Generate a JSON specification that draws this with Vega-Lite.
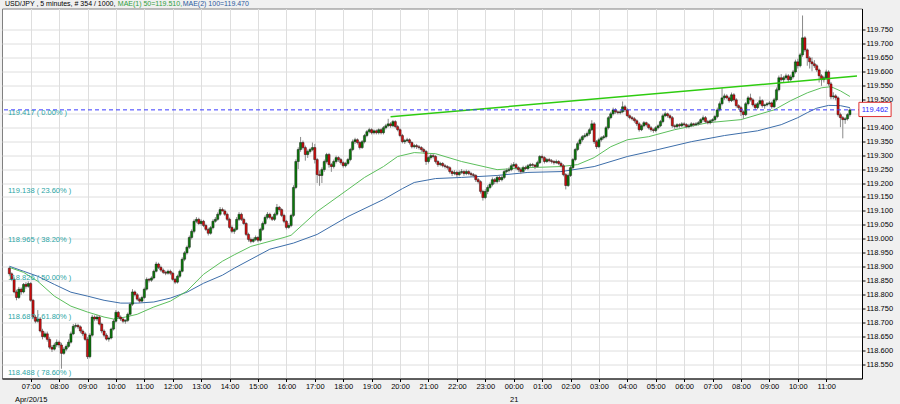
{
"$schema": "https://vega.github.io/schema/vega-lite/v6.json",
"width": 860, "height": 370,
"autosize": {"type": "none"},
"padding": {"left": 2, "top": 8.5, "right": 38, "bottom": 25.5},
"background": "#f0f0f0",
"config": {
  "view": {"fill": "#ffffff", "stroke": "#808080", "strokeWidth": 1},
  "axis": {"labelFont": "Liberation Sans", "labelFontSize": 7.5, "labelColor": "#000000", "grid": true, "gridColor": "#dedede", "gridOpacity": 1, "gridWidth": 1, "domainColor": "#000000", "tickColor": "#000000", "tickSize": 3, "title": null, "labelOverlap": false, "labelBound": false}
},
"datasets": {
"ma100": [
{"t":"2015-04-20T06:15","v":118.902},{"t":"2015-04-20T06:45","v":118.884},{"t":"2015-04-20T07:15","v":118.866},{"t":"2015-04-20T07:50","v":118.837},{"t":"2015-04-20T08:25","v":118.809},{"t":"2015-04-20T09:00","v":118.795},{"t":"2015-04-20T09:35","v":118.780},{"t":"2015-04-20T10:10","v":118.770},{"t":"2015-04-20T10:45","v":118.770},{"t":"2015-04-20T11:20","v":118.774},{"t":"2015-04-20T11:55","v":118.788},{"t":"2015-04-20T12:30","v":118.809},{"t":"2015-04-20T13:05","v":118.841},{"t":"2015-04-20T13:45","v":118.870},{"t":"2015-04-20T14:10","v":118.895},{"t":"2015-04-20T15:25","v":118.963},{"t":"2015-04-20T16:15","v":118.985},{"t":"2015-04-20T17:05","v":119.016},{"t":"2015-04-20T18:10","v":119.080},{"t":"2015-04-20T19:25","v":119.141},{"t":"2015-04-20T20:05","v":119.180},{"t":"2015-04-20T20:30","v":119.202},{"t":"2015-04-20T21:15","v":119.216},{"t":"2015-04-20T22:10","v":119.220},{"t":"2015-04-20T23:25","v":119.227},{"t":"2015-04-21T00:30","v":119.238},{"t":"2015-04-21T01:40","v":119.241},{"t":"2015-04-21T02:50","v":119.259},{"t":"2015-04-21T04:00","v":119.295},{"t":"2015-04-21T04:45","v":119.312},{"t":"2015-04-21T06:15","v":119.348},{"t":"2015-04-21T07:25","v":119.370},{"t":"2015-04-21T08:35","v":119.387},{"t":"2015-04-21T09:25","v":119.409},{"t":"2015-04-21T10:00","v":119.434},{"t":"2015-04-21T10:20","v":119.452},{"t":"2015-04-21T10:40","v":119.468},{"t":"2015-04-21T11:05","v":119.478},{"t":"2015-04-21T11:30","v":119.477},{"t":"2015-04-21T11:50","v":119.470}
],
"ma50": [
{"t":"2015-04-20T06:15","v":118.898},{"t":"2015-04-20T06:45","v":118.880},{"t":"2015-04-20T07:15","v":118.848},{"t":"2015-04-20T07:50","v":118.795},{"t":"2015-04-20T08:25","v":118.759},{"t":"2015-04-20T09:00","v":118.738},{"t":"2015-04-20T09:35","v":118.720},{"t":"2015-04-20T09:55","v":118.713},{"t":"2015-04-20T10:20","v":118.720},{"t":"2015-04-20T10:45","v":118.730},{"t":"2015-04-20T11:20","v":118.756},{"t":"2015-04-20T11:55","v":118.777},{"t":"2015-04-20T12:30","v":118.813},{"t":"2015-04-20T13:05","v":118.873},{"t":"2015-04-20T13:45","v":118.920},{"t":"2015-04-20T14:10","v":118.943},{"t":"2015-04-20T14:45","v":118.973},{"t":"2015-04-20T15:55","v":119.005},{"t":"2015-04-20T16:10","v":119.013},{"t":"2015-04-20T17:05","v":119.098},{"t":"2015-04-20T18:10","v":119.177},{"t":"2015-04-20T18:45","v":119.220},{"t":"2015-04-20T19:25","v":119.259},{"t":"2015-04-20T19:55","v":119.295},{"t":"2015-04-20T20:30","v":119.309},{"t":"2015-04-20T21:15","v":119.305},{"t":"2015-04-20T22:10","v":119.277},{"t":"2015-04-20T23:25","v":119.248},{"t":"2015-04-21T00:30","v":119.255},{"t":"2015-04-21T01:40","v":119.259},{"t":"2015-04-21T02:15","v":119.266},{"t":"2015-04-21T02:50","v":119.291},{"t":"2015-04-21T03:25","v":119.330},{"t":"2015-04-21T04:00","v":119.355},{"t":"2015-04-21T04:45","v":119.366},{"t":"2015-04-21T05:40","v":119.391},{"t":"2015-04-21T06:50","v":119.416},{"t":"2015-04-21T08:00","v":119.427},{"t":"2015-04-21T09:10","v":119.462},{"t":"2015-04-21T09:45","v":119.495},{"t":"2015-04-21T10:20","v":119.523},{"t":"2015-04-21T10:50","v":119.541},{"t":"2015-04-21T11:10","v":119.545},{"t":"2015-04-21T11:30","v":119.530},{"t":"2015-04-21T11:50","v":119.510}
],
"trend": [{"t":"2015-04-20T19:40","v":119.437},{"t":"2015-04-21T12:05","v":119.583}],
"fib": [{"p":119.417,"lab":"119.417 ( 0.00% )"},{"p":119.138,"lab":"119.138 ( 23.60% )"},{"p":118.965,"lab":"118.965 ( 38.20% )"},{"p":118.826,"lab":"118.826 ( 50.00% )"},{"p":118.687,"lab":"118.687 ( 61.80% )"},{"p":118.488,"lab":"118.488 ( 78.60% )"}],
"candles": [
{"t":"2015-04-20T06:15","o":118.895,"h":118.900,"l":118.870,"c":118.875},
{"t":"2015-04-20T06:20","o":118.875,"h":118.880,"l":118.850,"c":118.855},
{"t":"2015-04-20T06:25","o":118.855,"h":118.862,"l":118.805,"c":118.810},
{"t":"2015-04-20T06:30","o":118.810,"h":118.818,"l":118.780,"c":118.790},
{"t":"2015-04-20T06:35","o":118.790,"h":118.828,"l":118.785,"c":118.820},
{"t":"2015-04-20T06:40","o":118.820,"h":118.826,"l":118.800,"c":118.810},
{"t":"2015-04-20T06:45","o":118.810,"h":118.842,"l":118.805,"c":118.837},
{"t":"2015-04-20T06:50","o":118.837,"h":118.845,"l":118.822,"c":118.830},
{"t":"2015-04-20T06:55","o":118.830,"h":118.848,"l":118.825,"c":118.840},
{"t":"2015-04-20T07:00","o":118.840,"h":118.845,"l":118.775,"c":118.780},
{"t":"2015-04-20T07:05","o":118.780,"h":118.785,"l":118.712,"c":118.720},
{"t":"2015-04-20T07:10","o":118.720,"h":118.728,"l":118.698,"c":118.705},
{"t":"2015-04-20T07:15","o":118.705,"h":118.745,"l":118.700,"c":118.713},
{"t":"2015-04-20T07:20","o":118.713,"h":118.720,"l":118.665,"c":118.670},
{"t":"2015-04-20T07:25","o":118.670,"h":118.678,"l":118.640,"c":118.650},
{"t":"2015-04-20T07:30","o":118.650,"h":118.668,"l":118.645,"c":118.660},
{"t":"2015-04-20T07:35","o":118.660,"h":118.668,"l":118.632,"c":118.640},
{"t":"2015-04-20T07:40","o":118.640,"h":118.648,"l":118.605,"c":118.612},
{"t":"2015-04-20T07:45","o":118.612,"h":118.620,"l":118.595,"c":118.605},
{"t":"2015-04-20T07:50","o":118.605,"h":118.628,"l":118.600,"c":118.620},
{"t":"2015-04-20T07:55","o":118.620,"h":118.640,"l":118.612,"c":118.630},
{"t":"2015-04-20T08:00","o":118.630,"h":118.636,"l":118.610,"c":118.620},
{"t":"2015-04-20T08:05","o":118.620,"h":118.628,"l":118.535,"c":118.590},
{"t":"2015-04-20T08:10","o":118.590,"h":118.612,"l":118.585,"c":118.605},
{"t":"2015-04-20T08:15","o":118.605,"h":118.622,"l":118.598,"c":118.615},
{"t":"2015-04-20T08:20","o":118.615,"h":118.640,"l":118.610,"c":118.630},
{"t":"2015-04-20T08:25","o":118.630,"h":118.668,"l":118.625,"c":118.660},
{"t":"2015-04-20T08:30","o":118.660,"h":118.695,"l":118.655,"c":118.687},
{"t":"2015-04-20T08:35","o":118.687,"h":118.698,"l":118.680,"c":118.690},
{"t":"2015-04-20T08:40","o":118.690,"h":118.696,"l":118.678,"c":118.685},
{"t":"2015-04-20T08:45","o":118.685,"h":118.690,"l":118.662,"c":118.670},
{"t":"2015-04-20T08:50","o":118.670,"h":118.676,"l":118.652,"c":118.660},
{"t":"2015-04-20T08:55","o":118.660,"h":118.666,"l":118.635,"c":118.640},
{"t":"2015-04-20T09:00","o":118.640,"h":118.648,"l":118.570,"c":118.578},
{"t":"2015-04-20T09:05","o":118.578,"h":118.662,"l":118.572,"c":118.655},
{"t":"2015-04-20T09:10","o":118.655,"h":118.728,"l":118.650,"c":118.720},
{"t":"2015-04-20T09:15","o":118.720,"h":118.726,"l":118.705,"c":118.713},
{"t":"2015-04-20T09:20","o":118.713,"h":118.728,"l":118.706,"c":118.720},
{"t":"2015-04-20T09:25","o":118.720,"h":118.725,"l":118.690,"c":118.695},
{"t":"2015-04-20T09:30","o":118.695,"h":118.700,"l":118.662,"c":118.670},
{"t":"2015-04-20T09:35","o":118.670,"h":118.676,"l":118.648,"c":118.655},
{"t":"2015-04-20T09:40","o":118.655,"h":118.662,"l":118.636,"c":118.641},
{"t":"2015-04-20T09:45","o":118.641,"h":118.650,"l":118.632,"c":118.645},
{"t":"2015-04-20T09:50","o":118.645,"h":118.682,"l":118.640,"c":118.677},
{"t":"2015-04-20T09:55","o":118.677,"h":118.712,"l":118.672,"c":118.705},
{"t":"2015-04-20T10:00","o":118.705,"h":118.745,"l":118.700,"c":118.737},
{"t":"2015-04-20T10:05","o":118.737,"h":118.742,"l":118.714,"c":118.720},
{"t":"2015-04-20T10:10","o":118.720,"h":118.726,"l":118.706,"c":118.713},
{"t":"2015-04-20T10:15","o":118.713,"h":118.718,"l":118.698,"c":118.705},
{"t":"2015-04-20T10:20","o":118.705,"h":118.712,"l":118.696,"c":118.708},
{"t":"2015-04-20T10:25","o":118.708,"h":118.736,"l":118.702,"c":118.730},
{"t":"2015-04-20T10:30","o":118.730,"h":118.772,"l":118.725,"c":118.766},
{"t":"2015-04-20T10:35","o":118.766,"h":118.820,"l":118.760,"c":118.810},
{"t":"2015-04-20T10:40","o":118.810,"h":118.815,"l":118.794,"c":118.800},
{"t":"2015-04-20T10:45","o":118.800,"h":118.806,"l":118.778,"c":118.784},
{"t":"2015-04-20T10:50","o":118.784,"h":118.790,"l":118.770,"c":118.777},
{"t":"2015-04-20T10:55","o":118.777,"h":118.796,"l":118.772,"c":118.790},
{"t":"2015-04-20T11:00","o":118.790,"h":118.826,"l":118.785,"c":118.820},
{"t":"2015-04-20T11:05","o":118.820,"h":118.862,"l":118.815,"c":118.855},
{"t":"2015-04-20T11:10","o":118.855,"h":118.860,"l":118.844,"c":118.852},
{"t":"2015-04-20T11:15","o":118.852,"h":118.866,"l":118.846,"c":118.860},
{"t":"2015-04-20T11:20","o":118.860,"h":118.890,"l":118.855,"c":118.884},
{"t":"2015-04-20T11:25","o":118.884,"h":118.918,"l":118.880,"c":118.910},
{"t":"2015-04-20T11:30","o":118.910,"h":118.915,"l":118.892,"c":118.898},
{"t":"2015-04-20T11:35","o":118.898,"h":118.904,"l":118.882,"c":118.888},
{"t":"2015-04-20T11:40","o":118.888,"h":118.894,"l":118.874,"c":118.880},
{"t":"2015-04-20T11:45","o":118.880,"h":118.886,"l":118.870,"c":118.877},
{"t":"2015-04-20T11:50","o":118.877,"h":118.890,"l":118.872,"c":118.884},
{"t":"2015-04-20T11:55","o":118.884,"h":118.890,"l":118.870,"c":118.877},
{"t":"2015-04-20T12:00","o":118.877,"h":118.882,"l":118.850,"c":118.855},
{"t":"2015-04-20T12:05","o":118.855,"h":118.860,"l":118.838,"c":118.845},
{"t":"2015-04-20T12:10","o":118.845,"h":118.872,"l":118.840,"c":118.866},
{"t":"2015-04-20T12:15","o":118.866,"h":118.890,"l":118.860,"c":118.884},
{"t":"2015-04-20T12:20","o":118.884,"h":118.934,"l":118.880,"c":118.927},
{"t":"2015-04-20T12:25","o":118.927,"h":118.956,"l":118.920,"c":118.950},
{"t":"2015-04-20T12:30","o":118.950,"h":118.976,"l":118.944,"c":118.970},
{"t":"2015-04-20T12:35","o":118.970,"h":119.012,"l":118.964,"c":119.005},
{"t":"2015-04-20T12:40","o":119.005,"h":119.034,"l":118.998,"c":119.027},
{"t":"2015-04-20T12:45","o":119.027,"h":119.070,"l":119.020,"c":119.063},
{"t":"2015-04-20T12:50","o":119.063,"h":119.078,"l":119.056,"c":119.070},
{"t":"2015-04-20T12:55","o":119.070,"h":119.076,"l":119.050,"c":119.055},
{"t":"2015-04-20T13:00","o":119.055,"h":119.070,"l":119.048,"c":119.063},
{"t":"2015-04-20T13:05","o":119.063,"h":119.068,"l":119.042,"c":119.048},
{"t":"2015-04-20T13:10","o":119.048,"h":119.054,"l":119.028,"c":119.034},
{"t":"2015-04-20T13:15","o":119.034,"h":119.040,"l":119.012,"c":119.020},
{"t":"2015-04-20T13:20","o":119.020,"h":119.046,"l":119.015,"c":119.040},
{"t":"2015-04-20T13:25","o":119.040,"h":119.070,"l":119.034,"c":119.063},
{"t":"2015-04-20T13:30","o":119.063,"h":119.078,"l":119.058,"c":119.070},
{"t":"2015-04-20T13:35","o":119.070,"h":119.095,"l":119.065,"c":119.088},
{"t":"2015-04-20T13:40","o":119.088,"h":119.114,"l":119.082,"c":119.105},
{"t":"2015-04-20T13:45","o":119.105,"h":119.112,"l":119.098,"c":119.100},
{"t":"2015-04-20T13:50","o":119.100,"h":119.106,"l":119.082,"c":119.088},
{"t":"2015-04-20T13:55","o":119.088,"h":119.094,"l":119.064,"c":119.070},
{"t":"2015-04-20T14:00","o":119.070,"h":119.076,"l":119.036,"c":119.041},
{"t":"2015-04-20T14:05","o":119.041,"h":119.048,"l":119.020,"c":119.027},
{"t":"2015-04-20T14:10","o":119.027,"h":119.040,"l":119.018,"c":119.034},
{"t":"2015-04-20T14:15","o":119.034,"h":119.078,"l":119.030,"c":119.070},
{"t":"2015-04-20T14:20","o":119.070,"h":119.096,"l":119.064,"c":119.088},
{"t":"2015-04-20T14:25","o":119.088,"h":119.094,"l":119.064,"c":119.070},
{"t":"2015-04-20T14:30","o":119.070,"h":119.076,"l":119.050,"c":119.055},
{"t":"2015-04-20T14:35","o":119.055,"h":119.060,"l":119.010,"c":119.016},
{"t":"2015-04-20T14:40","o":119.016,"h":119.022,"l":118.990,"c":118.998},
{"t":"2015-04-20T14:45","o":118.998,"h":119.005,"l":118.984,"c":118.991},
{"t":"2015-04-20T14:50","o":118.991,"h":119.005,"l":118.986,"c":118.998},
{"t":"2015-04-20T14:55","o":118.998,"h":119.012,"l":118.992,"c":119.005},
{"t":"2015-04-20T15:00","o":119.005,"h":119.010,"l":118.988,"c":118.995},
{"t":"2015-04-20T15:05","o":118.995,"h":119.040,"l":118.990,"c":119.034},
{"t":"2015-04-20T15:10","o":119.034,"h":119.062,"l":119.028,"c":119.055},
{"t":"2015-04-20T15:15","o":119.055,"h":119.084,"l":119.050,"c":119.077},
{"t":"2015-04-20T15:20","o":119.077,"h":119.096,"l":119.070,"c":119.088},
{"t":"2015-04-20T15:25","o":119.088,"h":119.094,"l":119.070,"c":119.077},
{"t":"2015-04-20T15:30","o":119.077,"h":119.082,"l":119.064,"c":119.070},
{"t":"2015-04-20T15:35","o":119.070,"h":119.094,"l":119.064,"c":119.088},
{"t":"2015-04-20T15:40","o":119.088,"h":119.125,"l":119.082,"c":119.113},
{"t":"2015-04-20T15:45","o":119.113,"h":119.118,"l":119.098,"c":119.105},
{"t":"2015-04-20T15:50","o":119.105,"h":119.110,"l":119.078,"c":119.084},
{"t":"2015-04-20T15:55","o":119.084,"h":119.090,"l":119.056,"c":119.063},
{"t":"2015-04-20T16:00","o":119.063,"h":119.068,"l":119.034,"c":119.041},
{"t":"2015-04-20T16:05","o":119.041,"h":119.056,"l":119.036,"c":119.048},
{"t":"2015-04-20T16:10","o":119.048,"h":119.090,"l":119.042,"c":119.084},
{"t":"2015-04-20T16:15","o":119.084,"h":119.192,"l":119.078,"c":119.184},
{"t":"2015-04-20T16:20","o":119.184,"h":119.285,"l":119.178,"c":119.277},
{"t":"2015-04-20T16:25","o":119.277,"h":119.328,"l":119.250,"c":119.320},
{"t":"2015-04-20T16:30","o":119.320,"h":119.365,"l":119.312,"c":119.345},
{"t":"2015-04-20T16:35","o":119.345,"h":119.352,"l":119.320,"c":119.327},
{"t":"2015-04-20T16:40","o":119.327,"h":119.334,"l":119.280,"c":119.302},
{"t":"2015-04-20T16:45","o":119.302,"h":119.320,"l":119.290,"c":119.313},
{"t":"2015-04-20T16:50","o":119.313,"h":119.326,"l":119.306,"c":119.320},
{"t":"2015-04-20T16:55","o":119.320,"h":119.345,"l":119.314,"c":119.327},
{"t":"2015-04-20T17:00","o":119.327,"h":119.340,"l":119.270,"c":119.284},
{"t":"2015-04-20T17:05","o":119.284,"h":119.290,"l":119.200,"c":119.230},
{"t":"2015-04-20T17:10","o":119.230,"h":119.245,"l":119.190,"c":119.227},
{"t":"2015-04-20T17:15","o":119.227,"h":119.256,"l":119.200,"c":119.248},
{"t":"2015-04-20T17:20","o":119.248,"h":119.284,"l":119.240,"c":119.277},
{"t":"2015-04-20T17:25","o":119.277,"h":119.308,"l":119.270,"c":119.302},
{"t":"2015-04-20T17:30","o":119.302,"h":119.308,"l":119.255,"c":119.266},
{"t":"2015-04-20T17:35","o":119.266,"h":119.272,"l":119.240,"c":119.259},
{"t":"2015-04-20T17:40","o":119.259,"h":119.284,"l":119.252,"c":119.277},
{"t":"2015-04-20T17:45","o":119.277,"h":119.298,"l":119.270,"c":119.291},
{"t":"2015-04-20T17:50","o":119.291,"h":119.296,"l":119.276,"c":119.284},
{"t":"2015-04-20T17:55","o":119.284,"h":119.290,"l":119.266,"c":119.273},
{"t":"2015-04-20T18:00","o":119.273,"h":119.278,"l":119.255,"c":119.262},
{"t":"2015-04-20T18:05","o":119.262,"h":119.276,"l":119.256,"c":119.270},
{"t":"2015-04-20T18:10","o":119.270,"h":119.290,"l":119.264,"c":119.284},
{"t":"2015-04-20T18:15","o":119.284,"h":119.326,"l":119.278,"c":119.320},
{"t":"2015-04-20T18:20","o":119.320,"h":119.356,"l":119.314,"c":119.348},
{"t":"2015-04-20T18:25","o":119.348,"h":119.362,"l":119.340,"c":119.355},
{"t":"2015-04-20T18:30","o":119.355,"h":119.360,"l":119.338,"c":119.345},
{"t":"2015-04-20T18:35","o":119.345,"h":119.350,"l":119.320,"c":119.327},
{"t":"2015-04-20T18:40","o":119.327,"h":119.354,"l":119.322,"c":119.348},
{"t":"2015-04-20T18:45","o":119.348,"h":119.376,"l":119.342,"c":119.370},
{"t":"2015-04-20T18:50","o":119.370,"h":119.390,"l":119.364,"c":119.384},
{"t":"2015-04-20T18:55","o":119.384,"h":119.398,"l":119.378,"c":119.391},
{"t":"2015-04-20T19:00","o":119.391,"h":119.396,"l":119.374,"c":119.380},
{"t":"2015-04-20T19:05","o":119.380,"h":119.392,"l":119.374,"c":119.387},
{"t":"2015-04-20T19:10","o":119.387,"h":119.392,"l":119.374,"c":119.380},
{"t":"2015-04-20T19:15","o":119.380,"h":119.396,"l":119.374,"c":119.391},
{"t":"2015-04-20T19:20","o":119.391,"h":119.396,"l":119.374,"c":119.380},
{"t":"2015-04-20T19:25","o":119.380,"h":119.404,"l":119.374,"c":119.398},
{"t":"2015-04-20T19:30","o":119.398,"h":119.412,"l":119.392,"c":119.405},
{"t":"2015-04-20T19:35","o":119.405,"h":119.430,"l":119.400,"c":119.412},
{"t":"2015-04-20T19:40","o":119.412,"h":119.418,"l":119.398,"c":119.405},
{"t":"2015-04-20T19:45","o":119.405,"h":119.426,"l":119.400,"c":119.420},
{"t":"2015-04-20T19:50","o":119.420,"h":119.425,"l":119.396,"c":119.402},
{"t":"2015-04-20T19:55","o":119.402,"h":119.408,"l":119.385,"c":119.391},
{"t":"2015-04-20T20:00","o":119.391,"h":119.396,"l":119.364,"c":119.370},
{"t":"2015-04-20T20:05","o":119.370,"h":119.376,"l":119.342,"c":119.348},
{"t":"2015-04-20T20:10","o":119.348,"h":119.358,"l":119.340,"c":119.352},
{"t":"2015-04-20T20:15","o":119.352,"h":119.362,"l":119.346,"c":119.355},
{"t":"2015-04-20T20:20","o":119.355,"h":119.360,"l":119.338,"c":119.345},
{"t":"2015-04-20T20:25","o":119.345,"h":119.350,"l":119.324,"c":119.330},
{"t":"2015-04-20T20:30","o":119.330,"h":119.340,"l":119.324,"c":119.334},
{"t":"2015-04-20T20:35","o":119.334,"h":119.340,"l":119.322,"c":119.330},
{"t":"2015-04-20T20:40","o":119.330,"h":119.336,"l":119.320,"c":119.327},
{"t":"2015-04-20T20:45","o":119.327,"h":119.332,"l":119.312,"c":119.320},
{"t":"2015-04-20T20:50","o":119.320,"h":119.326,"l":119.306,"c":119.313},
{"t":"2015-04-20T20:55","o":119.313,"h":119.318,"l":119.265,"c":119.277},
{"t":"2015-04-20T21:00","o":119.277,"h":119.296,"l":119.270,"c":119.291},
{"t":"2015-04-20T21:05","o":119.291,"h":119.304,"l":119.284,"c":119.298},
{"t":"2015-04-20T21:10","o":119.298,"h":119.304,"l":119.288,"c":119.295},
{"t":"2015-04-20T21:15","o":119.295,"h":119.300,"l":119.270,"c":119.277},
{"t":"2015-04-20T21:20","o":119.277,"h":119.282,"l":119.258,"c":119.266},
{"t":"2015-04-20T21:25","o":119.266,"h":119.276,"l":119.260,"c":119.270},
{"t":"2015-04-20T21:30","o":119.270,"h":119.275,"l":119.256,"c":119.262},
{"t":"2015-04-20T21:35","o":119.262,"h":119.268,"l":119.252,"c":119.259},
{"t":"2015-04-20T21:40","o":119.259,"h":119.264,"l":119.248,"c":119.255},
{"t":"2015-04-20T21:45","o":119.255,"h":119.260,"l":119.234,"c":119.241},
{"t":"2015-04-20T21:50","o":119.241,"h":119.246,"l":119.225,"c":119.234},
{"t":"2015-04-20T21:55","o":119.234,"h":119.246,"l":119.228,"c":119.238},
{"t":"2015-04-20T22:00","o":119.238,"h":119.244,"l":119.222,"c":119.230},
{"t":"2015-04-20T22:05","o":119.230,"h":119.245,"l":119.224,"c":119.238},
{"t":"2015-04-20T22:10","o":119.238,"h":119.250,"l":119.232,"c":119.241},
{"t":"2015-04-20T22:15","o":119.241,"h":119.246,"l":119.226,"c":119.234},
{"t":"2015-04-20T22:20","o":119.234,"h":119.248,"l":119.228,"c":119.241},
{"t":"2015-04-20T22:25","o":119.241,"h":119.246,"l":119.228,"c":119.234},
{"t":"2015-04-20T22:30","o":119.234,"h":119.240,"l":119.222,"c":119.230},
{"t":"2015-04-20T22:35","o":119.230,"h":119.236,"l":119.220,"c":119.227},
{"t":"2015-04-20T22:40","o":119.227,"h":119.232,"l":119.204,"c":119.212},
{"t":"2015-04-20T22:45","o":119.212,"h":119.218,"l":119.198,"c":119.205},
{"t":"2015-04-20T22:50","o":119.205,"h":119.210,"l":119.162,"c":119.170},
{"t":"2015-04-20T22:55","o":119.170,"h":119.176,"l":119.137,"c":119.148},
{"t":"2015-04-20T23:00","o":119.148,"h":119.178,"l":119.142,"c":119.170},
{"t":"2015-04-20T23:05","o":119.170,"h":119.192,"l":119.160,"c":119.184},
{"t":"2015-04-20T23:10","o":119.184,"h":119.202,"l":119.178,"c":119.195},
{"t":"2015-04-20T23:15","o":119.195,"h":119.220,"l":119.188,"c":119.212},
{"t":"2015-04-20T23:20","o":119.212,"h":119.218,"l":119.196,"c":119.205},
{"t":"2015-04-20T23:25","o":119.205,"h":119.228,"l":119.198,"c":119.220},
{"t":"2015-04-20T23:30","o":119.220,"h":119.226,"l":119.204,"c":119.212},
{"t":"2015-04-20T23:35","o":119.212,"h":119.228,"l":119.206,"c":119.220},
{"t":"2015-04-20T23:40","o":119.220,"h":119.248,"l":119.214,"c":119.241},
{"t":"2015-04-20T23:45","o":119.241,"h":119.252,"l":119.234,"c":119.245},
{"t":"2015-04-20T23:50","o":119.245,"h":119.256,"l":119.238,"c":119.248},
{"t":"2015-04-20T23:55","o":119.248,"h":119.270,"l":119.242,"c":119.262},
{"t":"2015-04-21T00:00","o":119.262,"h":119.275,"l":119.256,"c":119.266},
{"t":"2015-04-21T00:05","o":119.266,"h":119.272,"l":119.248,"c":119.255},
{"t":"2015-04-21T00:10","o":119.255,"h":119.260,"l":119.240,"c":119.248},
{"t":"2015-04-21T00:15","o":119.248,"h":119.254,"l":119.232,"c":119.241},
{"t":"2015-04-21T00:20","o":119.241,"h":119.262,"l":119.236,"c":119.255},
{"t":"2015-04-21T00:25","o":119.255,"h":119.262,"l":119.246,"c":119.252},
{"t":"2015-04-21T00:30","o":119.252,"h":119.268,"l":119.246,"c":119.262},
{"t":"2015-04-21T00:35","o":119.262,"h":119.272,"l":119.256,"c":119.266},
{"t":"2015-04-21T00:40","o":119.266,"h":119.272,"l":119.258,"c":119.264},
{"t":"2015-04-21T00:45","o":119.264,"h":119.268,"l":119.250,"c":119.259},
{"t":"2015-04-21T00:50","o":119.259,"h":119.280,"l":119.254,"c":119.273},
{"t":"2015-04-21T00:55","o":119.273,"h":119.300,"l":119.268,"c":119.295},
{"t":"2015-04-21T01:00","o":119.295,"h":119.302,"l":119.284,"c":119.291},
{"t":"2015-04-21T01:05","o":119.291,"h":119.296,"l":119.270,"c":119.277},
{"t":"2015-04-21T01:10","o":119.277,"h":119.290,"l":119.272,"c":119.284},
{"t":"2015-04-21T01:15","o":119.284,"h":119.290,"l":119.274,"c":119.280},
{"t":"2015-04-21T01:20","o":119.280,"h":119.286,"l":119.270,"c":119.277},
{"t":"2015-04-21T01:25","o":119.277,"h":119.282,"l":119.266,"c":119.273},
{"t":"2015-04-21T01:30","o":119.273,"h":119.284,"l":119.268,"c":119.277},
{"t":"2015-04-21T01:35","o":119.277,"h":119.282,"l":119.264,"c":119.270},
{"t":"2015-04-21T01:40","o":119.270,"h":119.276,"l":119.256,"c":119.262},
{"t":"2015-04-21T01:45","o":119.262,"h":119.268,"l":119.224,"c":119.230},
{"t":"2015-04-21T01:50","o":119.230,"h":119.236,"l":119.177,"c":119.191},
{"t":"2015-04-21T01:55","o":119.191,"h":119.234,"l":119.186,"c":119.227},
{"t":"2015-04-21T02:00","o":119.227,"h":119.262,"l":119.222,"c":119.255},
{"t":"2015-04-21T02:05","o":119.255,"h":119.290,"l":119.250,"c":119.284},
{"t":"2015-04-21T02:10","o":119.284,"h":119.326,"l":119.278,"c":119.320},
{"t":"2015-04-21T02:15","o":119.320,"h":119.348,"l":119.314,"c":119.341},
{"t":"2015-04-21T02:20","o":119.341,"h":119.362,"l":119.334,"c":119.355},
{"t":"2015-04-21T02:25","o":119.355,"h":119.372,"l":119.348,"c":119.366},
{"t":"2015-04-21T02:30","o":119.366,"h":119.378,"l":119.360,"c":119.370},
{"t":"2015-04-21T02:35","o":119.370,"h":119.384,"l":119.364,"c":119.377},
{"t":"2015-04-21T02:40","o":119.377,"h":119.398,"l":119.370,"c":119.391},
{"t":"2015-04-21T02:45","o":119.391,"h":119.425,"l":119.386,"c":119.412},
{"t":"2015-04-21T02:50","o":119.412,"h":119.418,"l":119.340,"c":119.348},
{"t":"2015-04-21T02:55","o":119.348,"h":119.354,"l":119.322,"c":119.330},
{"t":"2015-04-21T03:00","o":119.330,"h":119.362,"l":119.325,"c":119.355},
{"t":"2015-04-21T03:05","o":119.355,"h":119.368,"l":119.348,"c":119.362},
{"t":"2015-04-21T03:10","o":119.362,"h":119.372,"l":119.356,"c":119.366},
{"t":"2015-04-21T03:15","o":119.366,"h":119.404,"l":119.360,"c":119.398},
{"t":"2015-04-21T03:20","o":119.398,"h":119.440,"l":119.392,"c":119.434},
{"t":"2015-04-21T03:25","o":119.434,"h":119.455,"l":119.428,"c":119.448},
{"t":"2015-04-21T03:30","o":119.448,"h":119.470,"l":119.442,"c":119.462},
{"t":"2015-04-21T03:35","o":119.462,"h":119.468,"l":119.448,"c":119.455},
{"t":"2015-04-21T03:40","o":119.455,"h":119.460,"l":119.446,"c":119.452},
{"t":"2015-04-21T03:45","o":119.452,"h":119.462,"l":119.446,"c":119.455},
{"t":"2015-04-21T03:50","o":119.455,"h":119.492,"l":119.450,"c":119.473},
{"t":"2015-04-21T03:55","o":119.473,"h":119.480,"l":119.455,"c":119.462},
{"t":"2015-04-21T04:00","o":119.462,"h":119.468,"l":119.436,"c":119.441},
{"t":"2015-04-21T04:05","o":119.441,"h":119.446,"l":119.428,"c":119.434},
{"t":"2015-04-21T04:10","o":119.434,"h":119.440,"l":119.424,"c":119.430},
{"t":"2015-04-21T04:15","o":119.430,"h":119.436,"l":119.416,"c":119.423},
{"t":"2015-04-21T04:20","o":119.423,"h":119.428,"l":119.404,"c":119.412},
{"t":"2015-04-21T04:25","o":119.412,"h":119.418,"l":119.384,"c":119.391},
{"t":"2015-04-21T04:30","o":119.391,"h":119.410,"l":119.386,"c":119.405},
{"t":"2015-04-21T04:35","o":119.405,"h":119.422,"l":119.400,"c":119.416},
{"t":"2015-04-21T04:40","o":119.416,"h":119.420,"l":119.402,"c":119.409},
{"t":"2015-04-21T04:45","o":119.409,"h":119.414,"l":119.392,"c":119.398},
{"t":"2015-04-21T04:50","o":119.398,"h":119.404,"l":119.384,"c":119.391},
{"t":"2015-04-21T04:55","o":119.391,"h":119.396,"l":119.380,"c":119.388},
{"t":"2015-04-21T05:00","o":119.388,"h":119.404,"l":119.382,"c":119.398},
{"t":"2015-04-21T05:05","o":119.398,"h":119.410,"l":119.392,"c":119.405},
{"t":"2015-04-21T05:10","o":119.405,"h":119.426,"l":119.400,"c":119.420},
{"t":"2015-04-21T05:15","o":119.420,"h":119.448,"l":119.414,"c":119.441},
{"t":"2015-04-21T05:20","o":119.441,"h":119.455,"l":119.436,"c":119.448},
{"t":"2015-04-21T05:25","o":119.448,"h":119.452,"l":119.434,"c":119.441},
{"t":"2015-04-21T05:30","o":119.441,"h":119.446,"l":119.428,"c":119.434},
{"t":"2015-04-21T05:35","o":119.434,"h":119.440,"l":119.398,"c":119.405},
{"t":"2015-04-21T05:40","o":119.405,"h":119.410,"l":119.394,"c":119.402},
{"t":"2015-04-21T05:45","o":119.402,"h":119.414,"l":119.396,"c":119.409},
{"t":"2015-04-21T05:50","o":119.409,"h":119.414,"l":119.398,"c":119.405},
{"t":"2015-04-21T05:55","o":119.405,"h":119.418,"l":119.400,"c":119.412},
{"t":"2015-04-21T06:00","o":119.412,"h":119.418,"l":119.402,"c":119.409},
{"t":"2015-04-21T06:05","o":119.409,"h":119.414,"l":119.396,"c":119.402},
{"t":"2015-04-21T06:10","o":119.402,"h":119.412,"l":119.396,"c":119.405},
{"t":"2015-04-21T06:15","o":119.405,"h":119.418,"l":119.400,"c":119.412},
{"t":"2015-04-21T06:20","o":119.412,"h":119.416,"l":119.402,"c":119.409},
{"t":"2015-04-21T06:25","o":119.409,"h":119.418,"l":119.404,"c":119.412},
{"t":"2015-04-21T06:30","o":119.412,"h":119.422,"l":119.406,"c":119.416},
{"t":"2015-04-21T06:35","o":119.416,"h":119.432,"l":119.410,"c":119.427},
{"t":"2015-04-21T06:40","o":119.427,"h":119.442,"l":119.420,"c":119.434},
{"t":"2015-04-21T06:45","o":119.434,"h":119.440,"l":119.414,"c":119.420},
{"t":"2015-04-21T06:50","o":119.420,"h":119.426,"l":119.410,"c":119.416},
{"t":"2015-04-21T06:55","o":119.416,"h":119.428,"l":119.410,"c":119.423},
{"t":"2015-04-21T07:00","o":119.423,"h":119.432,"l":119.416,"c":119.427},
{"t":"2015-04-21T07:05","o":119.427,"h":119.444,"l":119.420,"c":119.438},
{"t":"2015-04-21T07:10","o":119.438,"h":119.470,"l":119.432,"c":119.462},
{"t":"2015-04-21T07:15","o":119.462,"h":119.492,"l":119.456,"c":119.484},
{"t":"2015-04-21T07:20","o":119.484,"h":119.540,"l":119.478,"c":119.505},
{"t":"2015-04-21T07:25","o":119.505,"h":119.520,"l":119.498,"c":119.512},
{"t":"2015-04-21T07:30","o":119.512,"h":119.518,"l":119.500,"c":119.505},
{"t":"2015-04-21T07:35","o":119.505,"h":119.510,"l":119.488,"c":119.495},
{"t":"2015-04-21T07:40","o":119.495,"h":119.524,"l":119.490,"c":119.516},
{"t":"2015-04-21T07:45","o":119.516,"h":119.522,"l":119.492,"c":119.498},
{"t":"2015-04-21T07:50","o":119.498,"h":119.504,"l":119.470,"c":119.477},
{"t":"2015-04-21T07:55","o":119.477,"h":119.482,"l":119.462,"c":119.470},
{"t":"2015-04-21T08:00","o":119.470,"h":119.476,"l":119.440,"c":119.455},
{"t":"2015-04-21T08:05","o":119.455,"h":119.460,"l":119.430,"c":119.445},
{"t":"2015-04-21T08:10","o":119.445,"h":119.490,"l":119.440,"c":119.484},
{"t":"2015-04-21T08:15","o":119.484,"h":119.512,"l":119.478,"c":119.505},
{"t":"2015-04-21T08:20","o":119.505,"h":119.520,"l":119.492,"c":119.498},
{"t":"2015-04-21T08:25","o":119.498,"h":119.504,"l":119.474,"c":119.480},
{"t":"2015-04-21T08:30","o":119.480,"h":119.486,"l":119.462,"c":119.470},
{"t":"2015-04-21T08:35","o":119.470,"h":119.490,"l":119.464,"c":119.484},
{"t":"2015-04-21T08:40","o":119.484,"h":119.510,"l":119.478,"c":119.495},
{"t":"2015-04-21T08:45","o":119.495,"h":119.500,"l":119.470,"c":119.477},
{"t":"2015-04-21T08:50","o":119.477,"h":119.484,"l":119.466,"c":119.480},
{"t":"2015-04-21T08:55","o":119.480,"h":119.490,"l":119.474,"c":119.484},
{"t":"2015-04-21T09:00","o":119.484,"h":119.494,"l":119.478,"c":119.487},
{"t":"2015-04-21T09:05","o":119.487,"h":119.492,"l":119.466,"c":119.473},
{"t":"2015-04-21T09:10","o":119.473,"h":119.505,"l":119.468,"c":119.498},
{"t":"2015-04-21T09:15","o":119.498,"h":119.542,"l":119.492,"c":119.534},
{"t":"2015-04-21T09:20","o":119.534,"h":119.585,"l":119.528,"c":119.577},
{"t":"2015-04-21T09:25","o":119.577,"h":119.590,"l":119.564,"c":119.570},
{"t":"2015-04-21T09:30","o":119.570,"h":119.584,"l":119.562,"c":119.577},
{"t":"2015-04-21T09:35","o":119.577,"h":119.592,"l":119.570,"c":119.584},
{"t":"2015-04-21T09:40","o":119.584,"h":119.590,"l":119.560,"c":119.570},
{"t":"2015-04-21T09:45","o":119.570,"h":119.588,"l":119.564,"c":119.580},
{"t":"2015-04-21T09:50","o":119.580,"h":119.605,"l":119.574,"c":119.598},
{"t":"2015-04-21T09:55","o":119.598,"h":119.642,"l":119.592,"c":119.634},
{"t":"2015-04-21T10:00","o":119.634,"h":119.645,"l":119.610,"c":119.620},
{"t":"2015-04-21T10:05","o":119.620,"h":119.666,"l":119.614,"c":119.659},
{"t":"2015-04-21T10:10","o":119.659,"h":119.800,"l":119.652,"c":119.720},
{"t":"2015-04-21T10:15","o":119.720,"h":119.726,"l":119.670,"c":119.677},
{"t":"2015-04-21T10:20","o":119.677,"h":119.682,"l":119.620,"c":119.648},
{"t":"2015-04-21T10:25","o":119.648,"h":119.654,"l":119.610,"c":119.634},
{"t":"2015-04-21T10:30","o":119.634,"h":119.650,"l":119.600,"c":119.627},
{"t":"2015-04-21T10:35","o":119.627,"h":119.640,"l":119.612,"c":119.620},
{"t":"2015-04-21T10:40","o":119.620,"h":119.626,"l":119.598,"c":119.605},
{"t":"2015-04-21T10:45","o":119.605,"h":119.610,"l":119.560,"c":119.584},
{"t":"2015-04-21T10:50","o":119.584,"h":119.590,"l":119.548,"c":119.570},
{"t":"2015-04-21T10:55","o":119.570,"h":119.584,"l":119.560,"c":119.577},
{"t":"2015-04-21T11:00","o":119.577,"h":119.606,"l":119.570,"c":119.598},
{"t":"2015-04-21T11:05","o":119.598,"h":119.604,"l":119.548,"c":119.555},
{"t":"2015-04-21T11:10","o":119.555,"h":119.562,"l":119.500,"c":119.509},
{"t":"2015-04-21T11:15","o":119.509,"h":119.525,"l":119.500,"c":119.512},
{"t":"2015-04-21T11:20","o":119.512,"h":119.518,"l":119.496,"c":119.505},
{"t":"2015-04-21T11:25","o":119.505,"h":119.510,"l":119.438,"c":119.445},
{"t":"2015-04-21T11:30","o":119.445,"h":119.452,"l":119.400,"c":119.434},
{"t":"2015-04-21T11:35","o":119.434,"h":119.440,"l":119.360,"c":119.427},
{"t":"2015-04-21T11:40","o":119.427,"h":119.436,"l":119.412,"c":119.430},
{"t":"2015-04-21T11:45","o":119.430,"h":119.450,"l":119.424,"c":119.445},
{"t":"2015-04-21T11:50","o":119.445,"h":119.468,"l":119.438,"c":119.462}
]
},
"layer": [
{"data": {"name": "ma100"}, "mark": {"type": "line", "color": "#3d6eaa", "strokeWidth": 1},
 "encoding": {
  "x": {"field": "t", "type": "temporal", "title": null,
   "scale": {"domain": [{"year": 2015, "month": 4, "date": 20, "hours": 6, "minutes": 10}, {"year": 2015, "month": 4, "date": 21, "hours": 12, "minutes": 5}]},
   "axis": {"orient": "bottom", "format": "%H:%M", "grid": true, "tickCount": 200, "labelPadding": 1, "labelLineHeight": 13, "labelFlush": false, "labelOverlap": false, "labelBound": false,
    "labelExpr": "hours(datum.value) == 0 ? [datum.label, '21'] : ((date(datum.value) == 20 && hours(datum.value) == 7) ? [datum.label, 'Apr/20/15'] : datum.label)",
    "values": [{"year":2015,"month":4,"date":20,"hours":7},{"year":2015,"month":4,"date":20,"hours":8},{"year":2015,"month":4,"date":20,"hours":9},{"year":2015,"month":4,"date":20,"hours":10},{"year":2015,"month":4,"date":20,"hours":11},{"year":2015,"month":4,"date":20,"hours":12},{"year":2015,"month":4,"date":20,"hours":13},{"year":2015,"month":4,"date":20,"hours":14},{"year":2015,"month":4,"date":20,"hours":15},{"year":2015,"month":4,"date":20,"hours":16},{"year":2015,"month":4,"date":20,"hours":17},{"year":2015,"month":4,"date":20,"hours":18},{"year":2015,"month":4,"date":20,"hours":19},{"year":2015,"month":4,"date":20,"hours":20},{"year":2015,"month":4,"date":20,"hours":21},{"year":2015,"month":4,"date":20,"hours":22},{"year":2015,"month":4,"date":20,"hours":23},{"year":2015,"month":4,"date":21,"hours":0},{"year":2015,"month":4,"date":21,"hours":1},{"year":2015,"month":4,"date":21,"hours":2},{"year":2015,"month":4,"date":21,"hours":3},{"year":2015,"month":4,"date":21,"hours":4},{"year":2015,"month":4,"date":21,"hours":5},{"year":2015,"month":4,"date":21,"hours":6},{"year":2015,"month":4,"date":21,"hours":7},{"year":2015,"month":4,"date":21,"hours":8},{"year":2015,"month":4,"date":21,"hours":9},{"year":2015,"month":4,"date":21,"hours":10},{"year":2015,"month":4,"date":21,"hours":11}]}},
  "y": {"field": "v", "type": "quantitative", "title": null,
   "scale": {"domain": [118.5, 119.825], "zero": false, "nice": false},
   "axis": {"orient": "right", "format": ".3f", "grid": true, "tickCount": 200, "labelPadding": 1, "labelOverlap": false, "labelBound": false,
    "values": [118.55,118.6,118.65,118.7,118.75,118.8,118.85,118.9,118.95,119.0,119.05,119.1,119.15,119.2,119.25,119.3,119.35,119.4,119.45,119.5,119.55,119.6,119.65,119.7,119.75],
    "labelExpr": "abs(datum.value - 119.45) < 0.001 ? '' : datum.label"}}
 }},
{"data": {"name": "ma50"}, "mark": {"type": "line", "color": "#5cbf5c", "strokeWidth": 1},
 "encoding": {"x": {"field": "t", "type": "temporal", "title": null}, "y": {"field": "v", "type": "quantitative", "title": null}}},
{"data": {"name": "candles"}, "mark": {"type": "rule", "color": "#8a8a8a", "strokeWidth": 1},
 "encoding": {"x": {"field": "t", "type": "temporal", "title": null}, "y": {"field": "l", "type": "quantitative", "title": null}, "y2": {"field": "h"}}},
{"data": {"name": "candles"}, "mark": {"type": "bar", "size": 2.2, "stroke": "#000000", "strokeWidth": 0.4},
 "encoding": {"x": {"field": "t", "type": "temporal", "title": null}, "y": {"field": "o", "type": "quantitative", "title": null}, "y2": {"field": "c"},
  "color": {"condition": {"test": "datum.c >= datum.o", "value": "#0b7a0b"}, "value": "#d01010"}}},
{"data": {"name": "trend"}, "mark": {"type": "line", "color": "#2ecc10", "strokeWidth": 1.5},
 "encoding": {"x": {"field": "t", "type": "temporal", "title": null}, "y": {"field": "v", "type": "quantitative", "title": null}}},
{"data": {"values": [{}]}, "mark": {"type": "rule", "color": "#3a3aff", "strokeWidth": 1, "strokeDash": [4, 3]},
 "encoding": {"y": {"datum": 119.462, "type": "quantitative", "title": null}}},
{"data": {"name": "fib"}, "mark": {"type": "text", "align": "left", "baseline": "middle", "dx": 1, "dy": -9, "fontSize": 7.5, "font": "Liberation Sans", "color": "#2aa5a5", "clip": false},
 "encoding": {"x": {"datum": {"year": 2015, "month": 4, "date": 20, "hours": 6, "minutes": 10}, "type": "temporal", "title": null}, "y": {"field": "p", "type": "quantitative", "title": null}, "text": {"field": "lab"}}},
{"data": {"values": [{}]}, "mark": {"type": "rect", "fill": "#ffffff", "stroke": "#e03030", "strokeWidth": 1, "clip": false},
 "encoding": {"x": {"datum": {"year": 2015, "month": 4, "date": 21, "hours": 12, "minutes": 9}, "type": "temporal", "title": null}, "x2": {"datum": {"year": 2015, "month": 4, "date": 21, "hours": 13, "minutes": 17}}, "y": {"datum": 119.489, "type": "quantitative", "title": null}, "y2": {"datum": 119.438}}},
{"data": {"values": [{}]}, "mark": {"type": "text", "align": "center", "baseline": "middle", "fontSize": 7.5, "font": "Liberation Sans", "color": "#2a2aff", "clip": false},
 "encoding": {"x": {"datum": {"year": 2015, "month": 4, "date": 21, "hours": 12, "minutes": 43}, "type": "temporal", "title": null}, "y": {"datum": 119.462, "type": "quantitative", "title": null}, "text": {"value": "119.462"}}},
{"data": {"values": [{}]}, "mark": {"type": "text", "align": "left", "baseline": "middle", "dx": -2, "fontSize": 7, "font": "Liberation Sans", "color": "#000000", "clip": false},
 "encoding": {"x": {"datum": {"year": 2015, "month": 4, "date": 20, "hours": 6, "minutes": 10}, "type": "temporal", "title": null}, "y": {"datum": 119.841, "type": "quantitative", "title": null}, "text": {"value": "USD/JPY , 5 minutes, # 354 / 1000,"}}},
{"data": {"values": [{}]}, "mark": {"type": "text", "align": "left", "baseline": "middle", "fontSize": 7, "font": "Liberation Sans", "color": "#2e9e3e", "clip": false},
 "encoding": {"x": {"datum": {"year": 2015, "month": 4, "date": 20, "hours": 10, "minutes": 4}, "type": "temporal", "title": null}, "y": {"datum": 119.841, "type": "quantitative", "title": null}, "text": {"value": "MAE(1) 50=119.510,"}}},
{"data": {"values": [{}]}, "mark": {"type": "text", "align": "left", "baseline": "middle", "fontSize": 7, "font": "Liberation Sans", "color": "#2a5a9e", "clip": false},
 "encoding": {"x": {"datum": {"year": 2015, "month": 4, "date": 20, "hours": 12, "minutes": 21}, "type": "temporal", "title": null}, "y": {"datum": 119.841, "type": "quantitative", "title": null}, "text": {"value": "MAE(2) 100=119.470"}}}
]
}
